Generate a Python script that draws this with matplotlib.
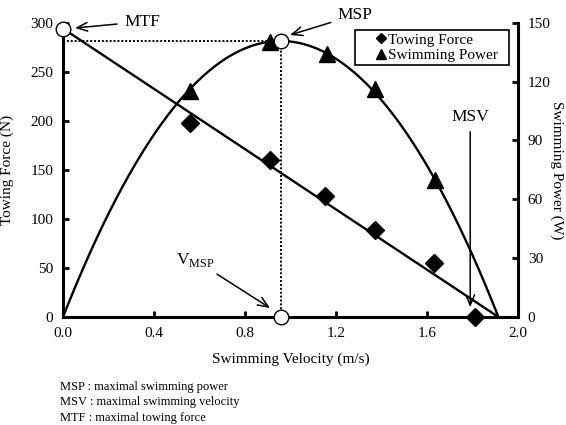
import matplotlib
matplotlib.use("Agg")
import matplotlib.pyplot as plt
import numpy as np
from matplotlib.lines import Line2D

plt.rcParams['font.family'] = ['Liberation Serif', 'Noto Sans CJK SC']
plt.rcParams['mathtext.fontset'] = 'custom'
plt.rcParams['mathtext.rm'] = 'Liberation Serif'

# Measured data
velocity_force = [0.56, 0.91, 1.15, 1.37, 1.63, 1.81]
towing_force = [198, 160, 123, 89, 55, 0]
velocity_power = [0.56, 0.91, 1.16, 1.37, 1.635]
swimming_power = [115, 140, 134, 116, 70]

# Fitted force-velocity relation
mtf = 294.0      # intercept on force axis (N)
v_zero = 1.914   # intercept on velocity axis (m/s)

x_ticks = [0.0, 0.4, 0.8, 1.2, 1.6, 2.0]
x_tick_labels = ['0.0', '0.4', '0.8', '1.2', '1.6', '2.0']
force_ticks = [0, 50, 100, 150, 200, 250, 300]
power_ticks = [0, 30, 60, 90, 120, 150]

notes = ["MSP : maximal swimming power",
         "MSV : maximal swimming velocity",
         "MTF : maximal towing force"]

fig = plt.figure(figsize=(5.66, 4.25), dpi=100)
ax = fig.add_axes([63/566, 1-317/425, 455/566, 294.3/425])
ax2 = ax.twinx()

v = np.linspace(0, v_zero, 200)
f_fit = mtf * (1 - v / v_zero)
p_fit = v * f_fit
v_msp = v_zero / 2
p_max = mtf * v_zero / 4

ax.plot(v, f_fit, color='k', lw=1.7, zorder=3)
ax.plot(velocity_force, towing_force, ls='none', marker='D', color='k', ms=9, zorder=4, clip_on=False)
ax2.plot(v, p_fit, color='k', lw=1.7, zorder=3)
ax2.plot(velocity_power, swimming_power, ls='none', marker='^', color='k', ms=12, zorder=4)

# dotted guides
ax2.plot([0, v_msp], [p_max, p_max], color='k', ls=(0, (1, 1)), lw=1.4, zorder=2)
ax2.plot([v_msp, v_msp], [0, p_max], color='k', ls=(0, (1, 1)), lw=1.4, zorder=2)

# open circles
ax.plot([0], [mtf], marker='o', ms=10.5, mfc='white', mec='k', mew=1.0, ls='none', clip_on=False, zorder=6)
ax2.plot([v_msp], [p_max], marker='o', ms=10.5, mfc='white', mec='k', mew=1.0, ls='none', clip_on=False, zorder=6)
ax2.plot([v_msp], [0], marker='o', ms=10.5, mfc='white', mec='k', mew=1.0, ls='none', clip_on=False, zorder=6)

ax.set_xlim(0, 2.0)
ax.set_ylim(0, 300)
ax2.set_ylim(0, 150)
ax.set_xticks(x_ticks)
ax.set_xticklabels(x_tick_labels)
ax.set_yticks(force_ticks)
ax2.set_yticks(power_ticks)

for a in (ax, ax2):
    a.spines['top'].set_visible(False)
    for s in ['left', 'bottom', 'right']:
        a.spines[s].set_linewidth(2.2)
    a.tick_params(direction='in', length=4, width=2, labelsize=11, pad=7)
ax.spines['right'].set_visible(False)
ax2.spines['left'].set_visible(False)
ax2.spines['bottom'].set_visible(False)

ax.set_xlabel('Swimming Velocity (m/s)', fontsize=11)
ax.set_ylabel('Towing Force (N)', fontsize=11)
ax2.set_ylabel('Swimming Power (W)', fontsize=11, rotation=-90)
ax.xaxis.set_label_coords(0.5, -0.122)
ax.yaxis.set_label_coords(-0.108, 0.5)
ax2.yaxis.set_label_coords(1.10, 0.5)

arrow = dict(arrowstyle='->,head_length=0.6,head_width=0.25', color='k', lw=1.1, shrinkA=3, shrinkB=0)
ax.annotate('MTF', xy=(0.053, 294.6), xytext=(0.347, 301), ha='center', va='center',
            fontsize=12.5, arrowprops=arrow, annotation_clip=False, zorder=7)
ax.annotate('MSP', xy=(0.998, 287.5), xytext=(1.284, 307.8), ha='center', va='center',
            fontsize=12.5, arrowprops=arrow, annotation_clip=False, zorder=7)
ax.annotate('MSV', xy=(1.79, 10), xytext=(1.79, 204), ha='center', va='center',
            fontsize=12.5, arrowprops=arrow, annotation_clip=False, zorder=7)
ax.annotate(r'V$_{\mathrm{MSP}}$', xy=(0.91, 9.2), xytext=(0.58, 58), ha='center', va='center',
            fontsize=12.5, arrowprops=arrow, annotation_clip=False, zorder=7)

handles = [Line2D([], [], marker='D', color='k', ls='none', ms=5.5),
           Line2D([], [], marker='^', color='k', ls='none', ms=7.5)]
leg = ax2.legend(handles, ['Towing Force  ', 'Swimming Power  '], loc='upper right',
                 bbox_to_anchor=(0.98, 0.975), borderaxespad=0, fontsize=11,
                 frameon=True, fancybox=False, framealpha=1, edgecolor='k',
                 handlelength=3.0, handletextpad=-1.0, borderpad=0.2, labelspacing=0.1)
leg.get_frame().set_linewidth(1.2)

ys = [386.7, 401.7, 418.3]
for t, y in zip(notes, ys):
    fig.text(60/566, 1 - y/425, t, fontsize=9, va='center', ha='left')

fig.savefig('out.png', dpi=100)
